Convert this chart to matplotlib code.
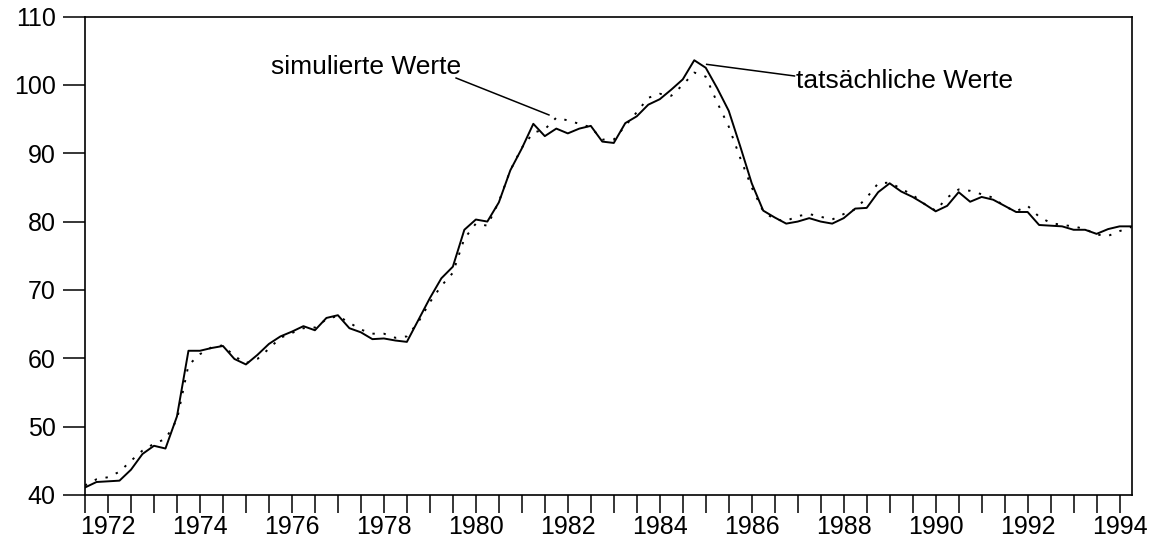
import numpy as np
import matplotlib
matplotlib.use('Agg')
import matplotlib.pyplot as plt
from matplotlib.ticker import MultipleLocator

plt.rcParams['font.family'] = ['Liberation Sans', 'DejaVu Sans']

# Quartalswerte 1971.5 .. 1994.25
erstes_quartal = 1971.5
tatsaechlich = [
    41.1, 41.9,
    42.0, 42.1, 43.7, 46.0,
    47.2, 46.8, 51.5, 61.1,
    61.1, 61.5, 61.8, 59.9,
    59.1, 60.5, 62.1, 63.2,
    63.9, 64.7, 64.1, 65.9,
    66.3, 64.4, 63.8, 62.8,
    62.9, 62.6, 62.4, 65.6,
    68.8, 71.7, 73.4, 78.8,
    80.3, 80.0, 82.8, 87.5,
    90.7, 94.3, 92.5, 93.6,
    92.9, 93.6, 94.0, 91.7,
    91.5, 94.4, 95.4, 97.1,
    97.9, 99.3, 100.8, 103.6,
    102.5, 99.5, 96.2, 91.0,
    85.6, 81.6, 80.6, 79.7,
    80.0, 80.5, 80.0, 79.7,
    80.5, 81.9, 82.0, 84.3,
    85.6, 84.4, 83.6, 82.6,
    81.5, 82.3, 84.3, 82.9,
    83.6, 83.2, 82.3, 81.4,
    81.4, 79.5, 79.4, 79.3,
    78.8, 78.8, 78.2, 78.9,
    79.3, 79.3,
]
simuliert = [
    41.4, 42.3,
    42.6, 43.4, 45.0, 46.5,
    47.5, 48.2, 51.0, 59.0,
    60.6, 61.6, 61.9, 60.3,
    59.3, 59.9, 61.4, 63.0,
    63.7, 64.4, 64.5, 65.7,
    66.2, 65.2, 64.2, 63.6,
    63.6, 63.0, 63.2, 65.3,
    68.2, 70.6, 72.5, 77.5,
    79.7, 79.4, 82.9, 87.5,
    90.8, 93.0, 93.5, 95.2,
    94.8, 94.3, 93.8, 92.0,
    92.0, 94.0, 96.0, 98.1,
    98.7, 98.4, 100.0, 101.8,
    101.2, 97.4, 93.9, 89.3,
    85.0, 81.5, 80.3, 80.1,
    80.8, 81.1, 80.7, 80.3,
    81.1, 81.8, 83.5, 85.6,
    85.7, 84.8, 83.9, 82.6,
    81.6, 83.5, 84.7, 84.5,
    84.0, 83.5, 82.2, 81.5,
    82.3, 80.7, 79.8, 79.5,
    79.3, 78.9, 78.1, 77.9,
    78.6, 79.2,
]
zeit = erstes_quartal + 0.25 * np.arange(len(tatsaechlich))

fig = plt.figure(figsize=(11.55, 5.41), dpi=100)
ax = fig.add_axes([85 / 1155, 1 - 495 / 541, (1132 - 85) / 1155, (495 - 16.5) / 541])

ax.plot(zeit, tatsaechlich, color='black', linewidth=1.4)
ax.plot(zeit, simuliert, color='black', linewidth=1.4, linestyle=(0, (1.2, 4.5)))

ax.set_xlim(1971.5, 1994.27)
ax.set_ylim(40, 110)
ax.xaxis.set_major_locator(MultipleLocator(2))
ax.xaxis.set_minor_locator(MultipleLocator(0.5))
ax.yaxis.set_major_locator(MultipleLocator(10))
ax.tick_params(axis='x', which='both', direction='out', length=13, width=1.1,
               labelsize=18, pad=1.5)
ax.tick_params(axis='y', direction='out', length=16, width=1.1, labelsize=18, pad=5)
for s in ax.spines.values():
    s.set_linewidth(1.2)

# Beschriftungen mit Hinweislinien
ax.text(1975.55, 102.6, 'simulierte Werte', fontsize=19, va='center', ha='left')
ax.plot([1979.57, 1981.59], [101.0, 95.6], color='black', linewidth=1.1)
ax.text(1986.97, 100.5, 'tatsächliche Werte', fontsize=19, va='center', ha='left')
ax.plot([1985.02, 1986.93], [103.0, 101.3], color='black', linewidth=1.1)

fig.savefig('out.png', dpi=100)
